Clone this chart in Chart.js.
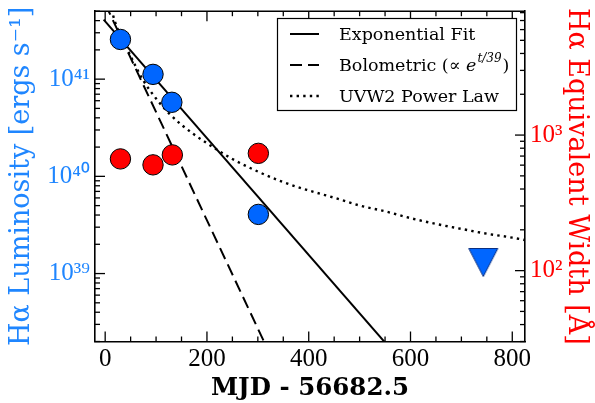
<!DOCTYPE html>
<html><head><meta charset="utf-8">
<script src="https://cdn.jsdelivr.net/npm/chart.js@4"></script>
<style>html,body{margin:0;padding:0;background:#fff;overflow:hidden}#wrap{width:595px;height:403px;position:relative}</style>
</head><body><div id="wrap"><canvas id="c" width="595" height="403"></canvas></div>
<script>
// ---- data ----
const haDays = [30, 94, 131, 301];
const haLum = [2.56e41, 1.12e41, 5.78e40, 4.06e39];
const ewDays = [30, 94, 132, 301];
const ewValues = [667, 603, 714, 733];
const limitDays = [743];
const limitLum = [1.3e39];
const expFitDays = [-3, 560];
const expFitLum = [4.1e41, 1.7e38];
const bolDays = [0, 330];
const bolLum = [5.96e41, 1.26e38];
const uvw2Days = [12, 20, 30, 45, 60, 75, 100, 125, 150, 175, 200, 250, 300, 350, 400, 450, 500, 550, 600, 650, 700, 750, 800, 825];
const uvw2Lum = [5.25e41, 3.80e41, 2.82e41, 1.95e41, 1.35e41, 9.66e40, 6.31e40, 4.47e40, 3.39e40, 2.69e40, 2.19e40, 1.51e40, 1.12e40, 8.71e39, 7.16e39, 6.03e39, 5.01e39, 4.37e39, 3.72e39, 3.24e39, 2.88e39, 2.57e39, 2.34e39, 2.21e39];
const xTicks = [0, 200, 400, 600, 800];
const xMinorTicks = [50, 100, 150, 250, 300, 350, 450, 500, 550, 650, 700, 750];
const lumTicks = [1e39, 1e40, 1e41];
const ewTicks = [1e2, 1e3];
const legendLabels = ['Exponential Fit', 'Bolometric', 'UVW2 Power Law'];

const BLUE = '#0066ff', BLUE_TXT = '#1f86ff', RED = '#ff0000';
const SUP = {'0':'⁰','1':'¹','2':'²','3':'³','4':'⁴','5':'⁵','6':'⁶','7':'⁷','8':'⁸','9':'⁹','-':'⁻'};
function pow10Label(v){ const e = Math.round(Math.log10(v)); return '10' + String(e).split('').map(c=>SUP[c]).join(''); }
const zip = (xs, ys) => xs.map((x,i)=>({x, y: ys[i]}));

// downward triangle marker (matplotlib 'v' shape)
const tri = document.createElement('canvas'); tri.width = 32; tri.height = 31;
(function(){ const t = tri.getContext('2d'); t.beginPath(); t.moveTo(1.5,1.5); t.lineTo(30.5,1.5); t.lineTo(16,29.5); t.closePath();
  t.fillStyle = BLUE; t.fill(); t.strokeStyle = '#0b2f80'; t.lineWidth = 1; t.stroke(); })();

const decor = {
  id: 'decor',
  afterDraw(chart){
    const ctx = chart.ctx, a = chart.chartArea;
    const xs = chart.scales.x, yl = chart.scales.y, yr = chart.scales.y2;
    ctx.save();
    ctx.strokeStyle = '#000'; ctx.lineWidth = 1.6;
    ctx.beginPath(); ctx.moveTo(a.left, a.top); ctx.lineTo(a.right, a.top); ctx.stroke();
    ctx.lineWidth = 1.3;
    const tick = (x1,y1,x2,y2)=>{ ctx.beginPath(); ctx.moveTo(x1,y1); ctx.lineTo(x2,y2); ctx.stroke(); };
    xTicks.forEach(v=>{ const p = xs.getPixelForValue(v); tick(p,a.bottom,p,a.bottom-10); tick(p,a.top,p,a.top+10); });
    xMinorTicks.forEach(v=>{ const p = xs.getPixelForValue(v); tick(p,a.bottom,p,a.bottom-5); tick(p,a.top,p,a.top+5); });
    const logTicks = (scale, majors, left) => {
      const x0 = left ? a.left : a.right, d = left ? 1 : -1;
      const lo = Math.floor(Math.log10(scale.min)), hi = Math.ceil(Math.log10(scale.max));
      for (let e = lo; e <= hi; e++) for (let m = 1; m <= 9; m++) {
        const v = m * Math.pow(10, e);
        if (v < scale.min || v > scale.max) continue;
        const p = scale.getPixelForValue(v);
        const len = majors.some(t => Math.abs(t - v) / t < 1e-9) ? 10 : 5;
        tick(x0, p, x0 + d*len, p);
      }
    };
    logTicks(yl, lumTicks, true);
    logTicks(yr, ewTicks, false);

    // legend
    const ds = chart.data.datasets;
    const bx = 277, by = 18, bw = 239, bh = 92;
    ctx.fillStyle = '#fff'; ctx.fillRect(bx, by, bw, bh);
    ctx.lineWidth = 1.2; ctx.strokeStyle = '#000'; ctx.strokeRect(bx+0.5, by+0.5, bw, bh);
    const rows = [34, 65, 96];
    [3,4,5].forEach((di, i) => {
      const d = ds[di];
      ctx.save();
      ctx.strokeStyle = d.borderColor; ctx.lineWidth = d.borderWidth; ctx.setLineDash(d.borderDash || []);
      ctx.beginPath(); ctx.moveTo(290, rows[i]); ctx.lineTo(319, rows[i]); ctx.stroke();
      ctx.restore();
      ctx.fillStyle = '#000'; ctx.textBaseline = 'middle'; ctx.textAlign = 'left';
      ctx.font = '17.5px "DejaVu Serif"';
      let x = 339;
      ctx.fillText(legendLabels[i], x, rows[i] + 1);
      if (i === 1) {
        x += ctx.measureText(legendLabels[i] + ' ').width;
        ctx.fillText('(∝ ', x, rows[i] + 1); x += ctx.measureText('(∝ ').width;
        ctx.font = 'italic 17.5px "DejaVu Serif"';
        ctx.fillText('e', x, rows[i] + 1); x += ctx.measureText('e').width + 1;
        ctx.font = 'italic 12px "DejaVu Serif"';
        ctx.fillText('t/39', x, rows[i] - 6); x += ctx.measureText('t/39').width + 1;
        ctx.font = '17.5px "DejaVu Serif"';
        ctx.fillText(')', x, rows[i] + 1);
      }
    });
    ctx.restore();
  }
};

const noPadY = w => s => { s.width = w; s.paddingTop = 0; s.paddingBottom = 0; };

new Chart(document.getElementById('c'), {
  type: 'scatter',
  data: {
    datasets: [
      { label: 'Hα luminosity', data: zip(haDays, haLum), yAxisID: 'y', backgroundColor: BLUE, borderColor: '#000', borderWidth: 1, pointRadius: 10.2, order: 0, clip: false },
      { label: 'Hα equivalent width', data: zip(ewDays, ewValues), yAxisID: 'y2', backgroundColor: RED, borderColor: '#000', borderWidth: 1, pointRadius: 10.2, order: 0, clip: false },
      { label: 'Hα upper limit', data: zip(limitDays, limitLum), yAxisID: 'y', pointStyle: tri, order: 0, clip: false },
      { label: 'Exponential Fit', data: zip(expFitDays, expFitLum), yAxisID: 'y', showLine: true, pointRadius: 0, borderColor: '#000', borderWidth: 2, order: 1, clip: 0 },
      { label: 'Bolometric (∝ e^{t/39})', data: zip(bolDays, bolLum), yAxisID: 'y', showLine: true, pointRadius: 0, borderColor: '#000', borderWidth: 2, borderDash: [12, 6], order: 1, clip: 0 },
      { label: 'UVW2 Power Law', data: zip(uvw2Days, uvw2Lum), yAxisID: 'y', showLine: true, pointRadius: 0, borderColor: '#000', borderWidth: 2.4, borderDash: [2.4, 4.2], cubicInterpolationMode: 'monotone', order: 1, clip: 0 }
    ]
  },
  options: {
    responsive: false, animation: false, devicePixelRatio: 1,
    layout: { padding: { top: 8.5, left: 0, right: 0, bottom: 0 } },
    plugins: { legend: { display: false }, tooltip: { enabled: false } },
    scales: {
      x: {
        type: 'linear', position: 'bottom', min: -20, max: 825,
        afterBuildTicks: s => { s.ticks = xTicks.map(v => ({ value: v })); },
        afterFit: s => { s.height = 61.5; s.paddingLeft = 0; s.paddingRight = 0; },
        grid: { display: false, drawTicks: false, tickLength: 0 },
        border: { display: true, color: '#000', width: 1.6 },
        ticks: { font: { family: 'Liberation Serif', size: 25 }, color: '#000', padding: 3, maxRotation: 0, autoSkip: false },
        title: { display: true, text: 'MJD - 56682.5', font: { family: 'DejaVu Serif', size: 24.5, weight: 'bold' }, color: '#000', padding: { top: 0, bottom: 0 } }
      },
      y: {
        type: 'logarithmic', position: 'left', min: 2e38, max: 5e41,
        afterBuildTicks: s => { s.ticks = lumTicks.map(v => ({ value: v, major: true })); },
        afterFit: noPadY(95),
        grid: { display: false, drawTicks: false, tickLength: 0 },
        border: { display: true, color: '#000', width: 1.6 },
        ticks: { font: { family: 'Liberation Serif', size: 25 }, color: BLUE_TXT, padding: 5, autoSkip: false, callback: v => pow10Label(v) },
        title: { display: true, text: 'Hα Luminosity [ergs s⁻¹]', font: { family: 'DejaVu Serif', size: 27 }, color: BLUE_TXT, padding: { top: 6, bottom: 0 } }
      },
      y2: {
        type: 'logarithmic', position: 'right', min: 30, max: 8200,
        afterBuildTicks: s => { s.ticks = ewTicks.map(v => ({ value: v, major: true })); },
        afterFit: noPadY(70),
        grid: { display: false, drawTicks: false, tickLength: 0 },
        border: { display: true, color: '#000', width: 1.6 },
        ticks: { font: { family: 'Liberation Serif', size: 25 }, color: RED, padding: 5, autoSkip: false, callback: v => pow10Label(v) },
        title: { display: true, text: 'Hα Equivalent Width [Å]', font: { family: 'DejaVu Serif', size: 27 }, color: RED, padding: { top: 3, bottom: 0 } }
      }
    }
  },
  plugins: [decor]
});
</script></body></html>
